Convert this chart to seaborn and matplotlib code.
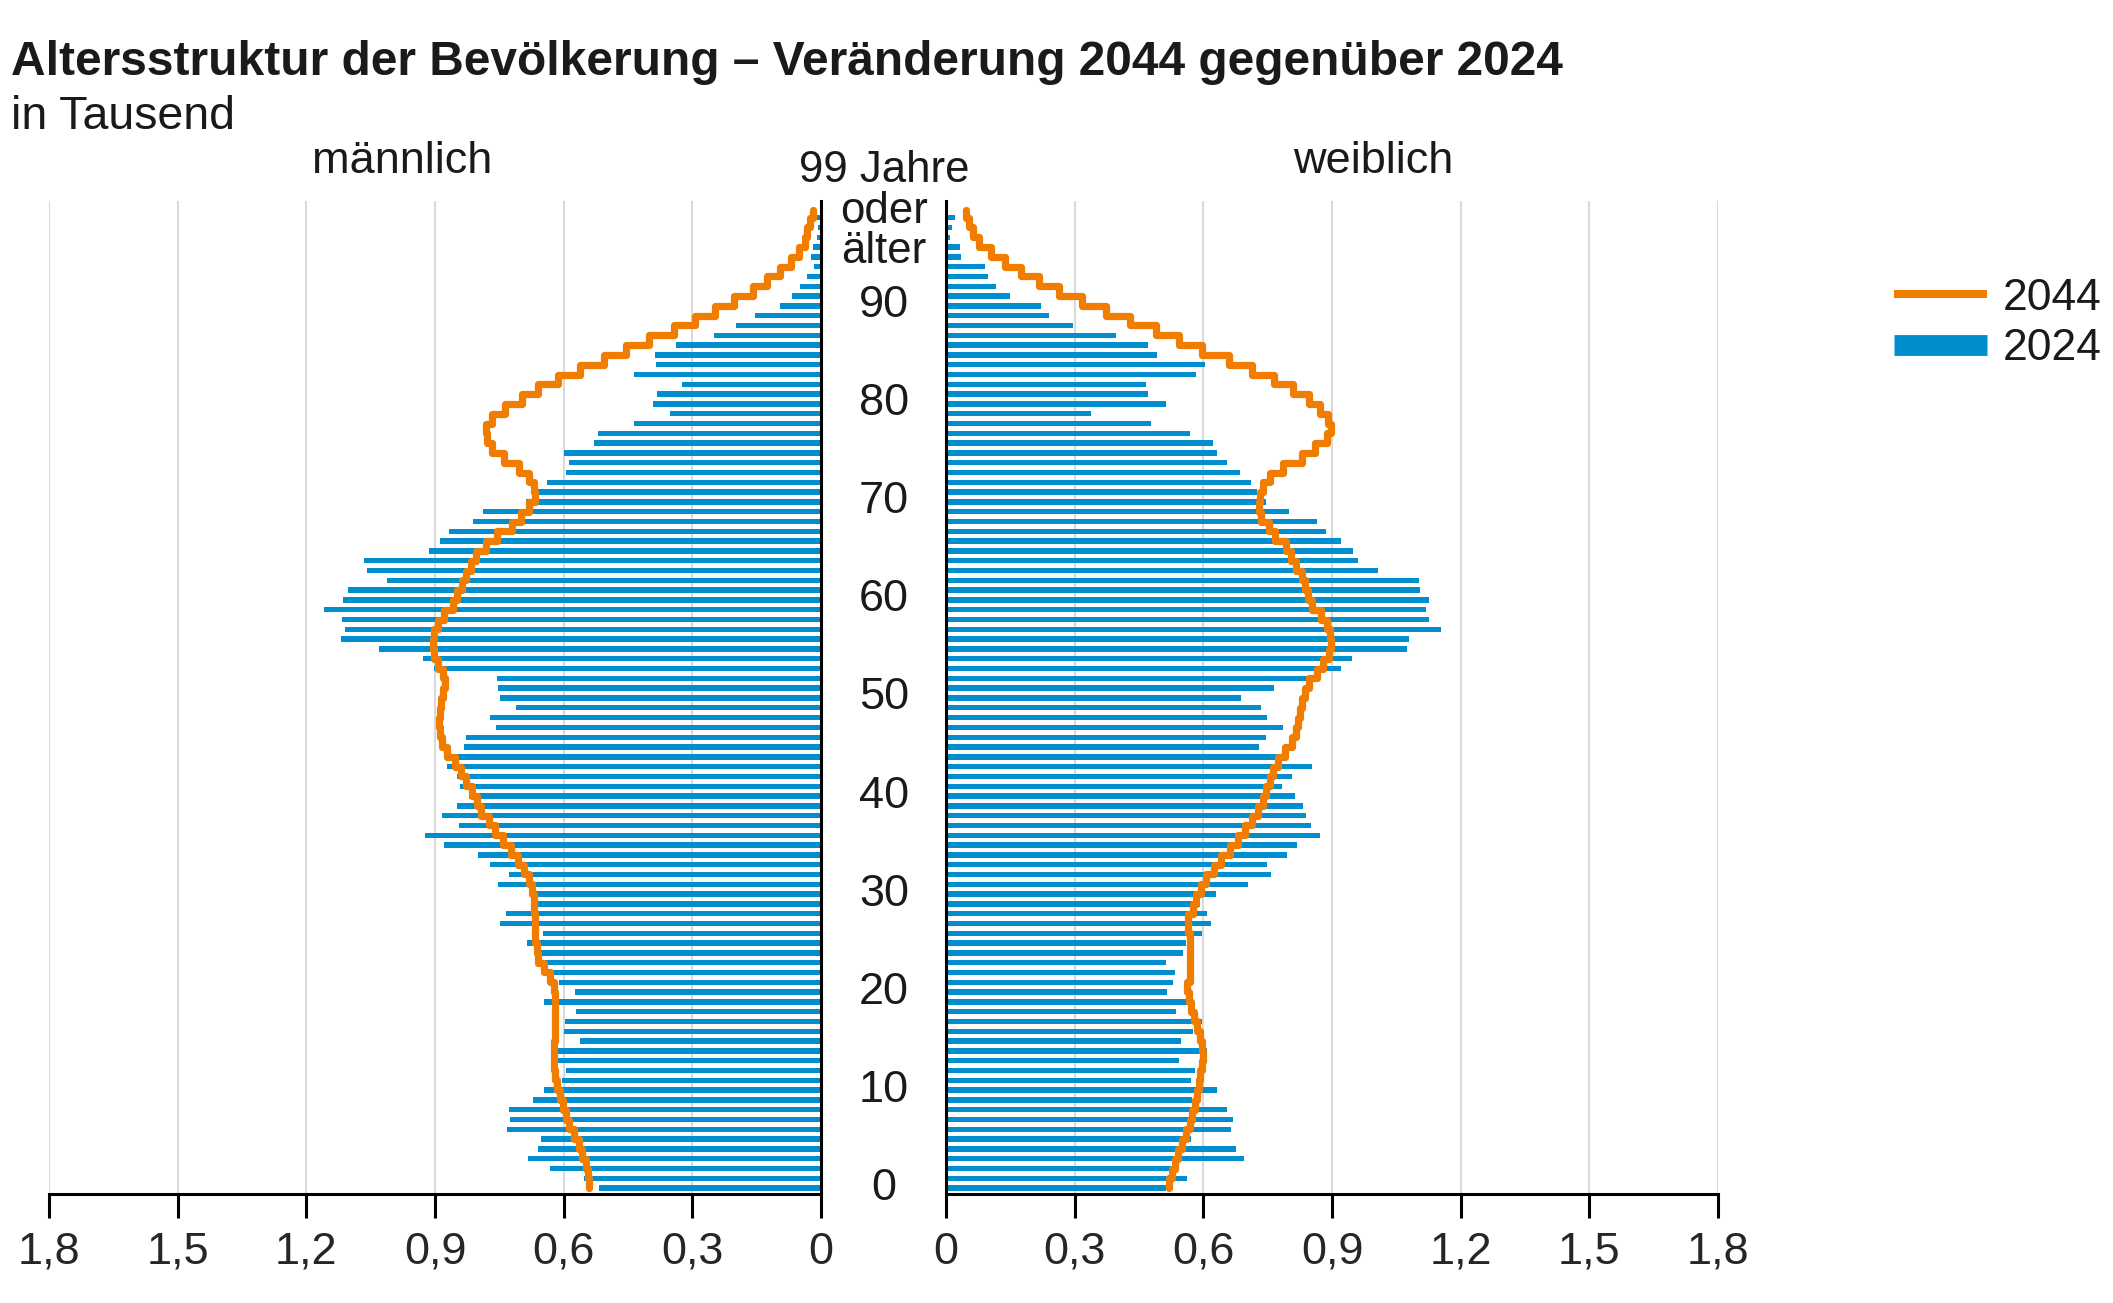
import numpy as np
import matplotlib
matplotlib.use("Agg")
import matplotlib.pyplot as plt
import seaborn as sns
from matplotlib.lines import Line2D
from matplotlib.transforms import blended_transform_factory

# Bevölkerung nach Alter, in Tausend
ages = np.arange(100)

male_2024 = [
    0.517, 0.553, 0.633, 0.684, 0.661, 0.654, 0.732, 0.724, 0.728, 0.672,
    0.647, 0.603, 0.594, 0.613, 0.613, 0.562, 0.599, 0.598, 0.571, 0.645,
    0.573, 0.611, 0.636, 0.663, 0.656, 0.686, 0.648, 0.748, 0.734, 0.663,
    0.667, 0.752, 0.727, 0.771, 0.799, 0.880, 0.923, 0.845, 0.883, 0.848,
    0.821, 0.842, 0.848, 0.873, 0.860, 0.833, 0.828, 0.757, 0.771, 0.711,
    0.749, 0.752, 0.755, 0.902, 0.927, 1.030, 1.120, 1.111, 1.118, 1.159,
    1.114, 1.104, 1.011, 1.058, 1.065, 0.915, 0.888, 0.867, 0.812, 0.788,
    0.688, 0.661, 0.638, 0.594, 0.587, 0.599, 0.530, 0.520, 0.435, 0.352,
    0.391, 0.383, 0.323, 0.436, 0.384, 0.388, 0.337, 0.249, 0.199, 0.155,
    0.096, 0.067, 0.050, 0.033, 0.017, 0.023, 0.018, 0.009, 0.007, 0.009,
]

female_2024 = [
    0.514, 0.563, 0.544, 0.695, 0.676, 0.572, 0.664, 0.668, 0.656, 0.574,
    0.632, 0.571, 0.580, 0.543, 0.609, 0.547, 0.575, 0.597, 0.537, 0.563,
    0.516, 0.529, 0.533, 0.514, 0.552, 0.559, 0.597, 0.617, 0.609, 0.593,
    0.630, 0.705, 0.757, 0.749, 0.794, 0.819, 0.873, 0.850, 0.839, 0.832,
    0.814, 0.784, 0.807, 0.853, 0.780, 0.730, 0.746, 0.786, 0.749, 0.734,
    0.688, 0.765, 0.850, 0.922, 0.947, 1.074, 1.079, 1.153, 1.126, 1.119,
    1.126, 1.105, 1.103, 1.008, 0.960, 0.950, 0.921, 0.886, 0.866, 0.799,
    0.747, 0.725, 0.711, 0.685, 0.655, 0.632, 0.622, 0.568, 0.478, 0.338,
    0.514, 0.471, 0.466, 0.584, 0.604, 0.492, 0.472, 0.396, 0.295, 0.241,
    0.222, 0.149, 0.117, 0.099, 0.091, 0.036, 0.032, 0.010, 0.013, 0.022,
]

male_2044 = [
    0.540, 0.544, 0.549, 0.557, 0.565, 0.576, 0.587, 0.595, 0.601, 0.609,
    0.615, 0.620, 0.622, 0.622, 0.622, 0.621, 0.620, 0.620, 0.620, 0.621,
    0.623, 0.632, 0.647, 0.659, 0.663, 0.666, 0.666, 0.667, 0.669, 0.670,
    0.673, 0.680, 0.692, 0.707, 0.723, 0.742, 0.759, 0.775, 0.792, 0.803,
    0.813, 0.828, 0.839, 0.854, 0.871, 0.883, 0.888, 0.890, 0.889, 0.885,
    0.881, 0.877, 0.881, 0.892, 0.902, 0.904, 0.903, 0.894, 0.878, 0.858,
    0.849, 0.838, 0.828, 0.817, 0.804, 0.780, 0.755, 0.721, 0.700, 0.680,
    0.667, 0.669, 0.681, 0.705, 0.740, 0.767, 0.778, 0.781, 0.767, 0.736,
    0.698, 0.659, 0.613, 0.563, 0.507, 0.455, 0.401, 0.343, 0.293, 0.248,
    0.202, 0.158, 0.125, 0.096, 0.071, 0.052, 0.038, 0.032, 0.025, 0.019,
]

female_2044 = [
    0.519, 0.526, 0.533, 0.541, 0.551, 0.559, 0.568, 0.574, 0.580, 0.586,
    0.589, 0.593, 0.597, 0.599, 0.598, 0.593, 0.586, 0.578, 0.572, 0.566,
    0.561, 0.570, 0.570, 0.568, 0.568, 0.568, 0.565, 0.565, 0.576, 0.583,
    0.594, 0.607, 0.626, 0.641, 0.662, 0.680, 0.696, 0.713, 0.727, 0.738,
    0.746, 0.755, 0.763, 0.775, 0.790, 0.807, 0.817, 0.821, 0.825, 0.831,
    0.838, 0.846, 0.864, 0.879, 0.893, 0.898, 0.896, 0.888, 0.875, 0.854,
    0.844, 0.838, 0.829, 0.815, 0.804, 0.792, 0.767, 0.752, 0.735, 0.730,
    0.732, 0.740, 0.755, 0.785, 0.830, 0.860, 0.888, 0.898, 0.890, 0.873,
    0.846, 0.809, 0.764, 0.713, 0.659, 0.598, 0.544, 0.489, 0.428, 0.372,
    0.317, 0.264, 0.217, 0.175, 0.138, 0.106, 0.076, 0.062, 0.054, 0.047,
]

ticks = [0, 0.3, 0.6, 0.9, 1.2, 1.5, 1.8]
tick_labels = ["0", "0,3", "0,6", "0,9", "1,2", "1,5", "1,8"]
age_ticks = list(range(0, 100, 10))

BLUE = "#008ECF"
ORANGE = "#F07D00"
GRID = "#D9D9D9"

sns.set_style("white")
plt.rcParams["font.family"] = ["Liberation Sans", "DejaVu Sans"]
plt.rcParams["text.color"] = "#1a1a1a"

fig = plt.figure(figsize=(21.13, 13.03), dpi=100)
ax_m = fig.add_axes([0.02319, 0.08365, 0.36536, 0.76209])
ax_f = fig.add_axes([0.44771, 0.08365, 0.36536, 0.76209])


def step_line(vals):
    # senkrechte Stufe je Altersjahr, Sprung jeweils auf Höhe des Balkens
    y = np.column_stack([ages, ages + 1.0]).ravel()
    y[-1] = 99.8
    x = np.repeat(np.asarray(vals), 2)
    return x, y


for ax, bars, line, side in [
    (ax_m, male_2024, male_2044, "m"),
    (ax_f, female_2024, female_2044, "f"),
]:
    ax.grid(axis="x", color=GRID, lw=1.5, zorder=0)
    ax.grid(axis="y", visible=False)
    ax.set_axisbelow(True)
    sns.barplot(x=bars, y=ages, orient="h", native_scale=True, color=BLUE,
                saturation=1, width=0.55, linewidth=0, errorbar=None, ax=ax,
                zorder=2)
    lx, ly = step_line(line)
    sns.lineplot(x=lx, y=ly, sort=False, estimator=None, color=ORANGE,
                 lw=5.2, ax=ax, zorder=3, legend=False)
    ax.set_ylim(-0.6, 100.7)
    ax.set_yticks([])
    ax.set_xticks(ticks)
    ax.set_xticklabels(tick_labels)
    ax.tick_params(axis="x", direction="out", length=17, width=2.2,
                   labelsize=32.5, pad=10, color="black", bottom=True)
    ax.set_xlabel("")
    ax.set_ylabel("")
    for s in ax.spines.values():
        s.set_visible(False)
    ax.spines["bottom"].set_visible(True)
    ax.spines["bottom"].set_linewidth(2.2)
    ax.spines["bottom"].set_color("black")
    zero = "right" if side == "m" else "left"
    ax.spines[zero].set_visible(True)
    ax.spines[zero].set_linewidth(2.2)
    ax.spines[zero].set_color("black")
    ax.spines[zero].set_zorder(4)

ax_m.set_xlim(1.8, 0)
ax_f.set_xlim(0, 1.8)

# Alterslabels in der Mitte
mid_x = 884 / 2113
tr = blended_transform_factory(fig.transFigure, ax_m.transData)
for a in age_ticks:
    fig.text(mid_x, a, str(a), transform=tr, ha="center", va="center",
             fontsize=32.5)

for txt, base in [("99 Jahre", 182), ("oder", 223), ("älter", 263)]:
    fig.text(mid_x, 1 - base / 1303, txt, ha="center", va="baseline",
             fontsize=31.5)

fig.text(402 / 2113, 1 - 173 / 1303, "männlich", ha="center",
         va="baseline", fontsize=32.5)
fig.text(1373 / 2113, 1 - 173 / 1303, "weiblich", ha="center",
         va="baseline", fontsize=32.5)

fig.text(11 / 2113, 1 - 75 / 1303,
         "Altersstruktur der Bevölkerung – Veränderung 2044 gegenüber 2024",
         ha="left", va="baseline", fontsize=34.5, fontweight="bold")
fig.text(11 / 2113, 1 - 129 / 1303, "in Tausend", ha="left",
         va="baseline", fontsize=33.5)

handles = [
    Line2D([], [], color=ORANGE, lw=5.8, solid_capstyle="butt"),
    Line2D([], [], color=BLUE, lw=15, solid_capstyle="butt"),
]
fig.legend(handles, ["2044", "2024"], loc="upper left",
           bbox_to_anchor=(1894 / 2113, 1 - 278 / 1303), frameon=False,
           fontsize=32, borderpad=0, borderaxespad=0, handlelength=2.1,
           handletextpad=0.35, labelspacing=0.21)

fig.savefig("out.png", dpi=100)
